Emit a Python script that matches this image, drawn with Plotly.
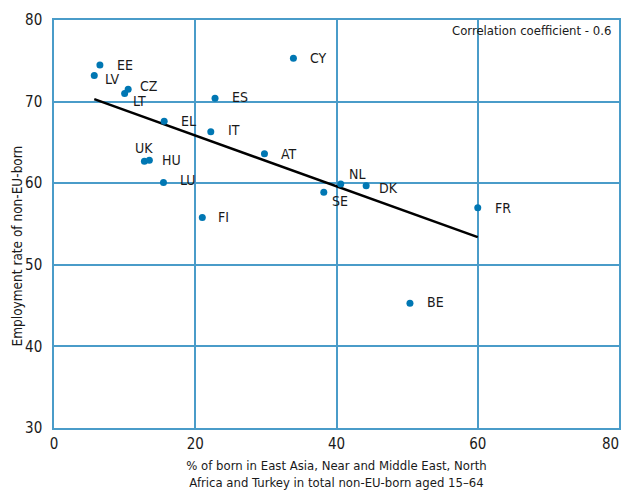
import plotly.graph_objects as go

countries = ["EE", "LV", "CZ", "LT", "EL", "ES", "IT", "UK", "HU", "LU",
             "CY", "AT", "NL", "DK", "SE", "FR", "BE", "FI"]
share_asia_africa = [6.5, 5.7, 10.5, 10.0, 15.6, 22.8, 22.2, 12.8, 13.5, 15.5,
                     33.9, 29.8, 40.6, 44.2, 38.2, 60.0, 50.4, 21.0]
employment_rate = [74.5, 73.2, 71.5, 71.0, 67.6, 70.4, 66.3, 62.7, 62.8, 60.1,
                   75.3, 63.6, 59.9, 59.7, 58.9, 57.0, 45.3, 55.8]

trend_x = [5.7, 60.0]
trend_y = [70.3, 53.4]

x_ticks = [0, 20, 40, 60, 80]
x_tick_labels = ["0", "20", "40", "60", "80"]
y_ticks = [30, 40, 50, 60, 70, 80]

# label offsets in pixels (style only)
label_offsets = {
    "EE": (15, 0, "left"), "LV": (9, -4, "left"), "CZ": (10, 3, "left"),
    "LT": (6, -8, "left"), "EL": (15, 0, "left"), "ES": (15, 1, "left"),
    "IT": (15, 2, "left"), "UK": (0, 13, "center"), "HU": (11, 0, "left"),
    "LU": (15, 2, "left"), "CY": (15, 0, "left"), "AT": (15, 0, "left"),
    "NL": (6, 10, "left"), "DK": (11, -2, "left"), "SE": (6, -9, "left"),
    "FR": (15, 0, "left"), "BE": (15, 1, "left"), "FI": (14, 0, "left"),
}

FAM = "DejaVu Sans Condensed, sans-serif"
GRID = "#4a9cc9"
TXT = "#1a1a1a"


def f(size):
    return dict(family=FAM, size=size, color=TXT)


fig = go.Figure()
fig.add_trace(go.Scatter(
    x=trend_x, y=trend_y, mode="lines",
    line=dict(color="black", width=2.5), hoverinfo="skip", showlegend=False))
fig.add_trace(go.Scatter(
    x=share_asia_africa, y=employment_rate, mode="markers",
    marker=dict(color="#0077b3", size=7), text=countries, showlegend=False))

for c, x, y in zip(countries, share_asia_africa, employment_rate):
    dx, dy, anchor = label_offsets[c]
    fig.add_annotation(x=x, y=y, text=c, showarrow=False, xanchor=anchor,
                       yanchor="middle", xshift=dx, yshift=dy, font=f(14))

# white panel behind the correlation note (hides the grid line there)
fig.add_shape(type="rect", xref="paper", yref="paper", x0=0.70, x1=0.995,
              y0=0.93, y1=1.0, fillcolor="white", line=dict(width=0),
              layer="between")
fig.add_annotation(x=1, y=1, xref="paper", yref="paper", xanchor="right",
                   yanchor="top", text="Correlation coefficient - 0.6",
                   showarrow=False, borderpad=0, xshift=-7, yshift=-2,
                   font=f(13))

# last x tick label kept inside the page (right-aligned at its tick)
fig.add_annotation(x=x_ticks[-1], y=0, xref="x", yref="paper", xanchor="right",
                   yanchor="top", text=x_tick_labels[-1], showarrow=False,
                   xshift=2, yshift=-5, font=f(15))

# y axis title, placed slightly below centre as in the original
fig.add_annotation(x=0, y=0.445, xref="paper", yref="paper", xanchor="center",
                   yanchor="middle", textangle=-90, xshift=-37,
                   text="Employment rate of non-EU-born", showarrow=False,
                   font=f(13.5))

fig.update_xaxes(range=[0, 80], tickvals=x_ticks,
                 ticktext=x_tick_labels[:-1] + [""],
                 showgrid=True, gridcolor=GRID,
                 gridwidth=1.5, showline=True, linecolor=GRID, linewidth=1.5, mirror=True,
                 zeroline=False, ticks="", ticklabelstandoff=1, automargin=False,
                 tickfont=f(15),
                 title=dict(text="% of born in East Asia, Near and Middle East, North<br>Africa and Turkey in total non-EU-born aged 15\u201364",
                            font=f(13), standoff=9))
fig.update_yaxes(range=[30, 80], tickvals=y_ticks, showgrid=True, gridcolor=GRID,
                 gridwidth=1.5, showline=True, linecolor=GRID, linewidth=1.5, mirror=True,
                 zeroline=False, ticks="", ticklabelstandoff=7, automargin=False,
                 tickfont=f(15))

fig.update_layout(width=621, height=493, margin=dict(l=54, r=2, t=20, b=65),
                  plot_bgcolor="white", paper_bgcolor="white")

fig.write_html("out.html", config={"displayModeBar": False},
               post_script="document.body.style.margin='0';")
